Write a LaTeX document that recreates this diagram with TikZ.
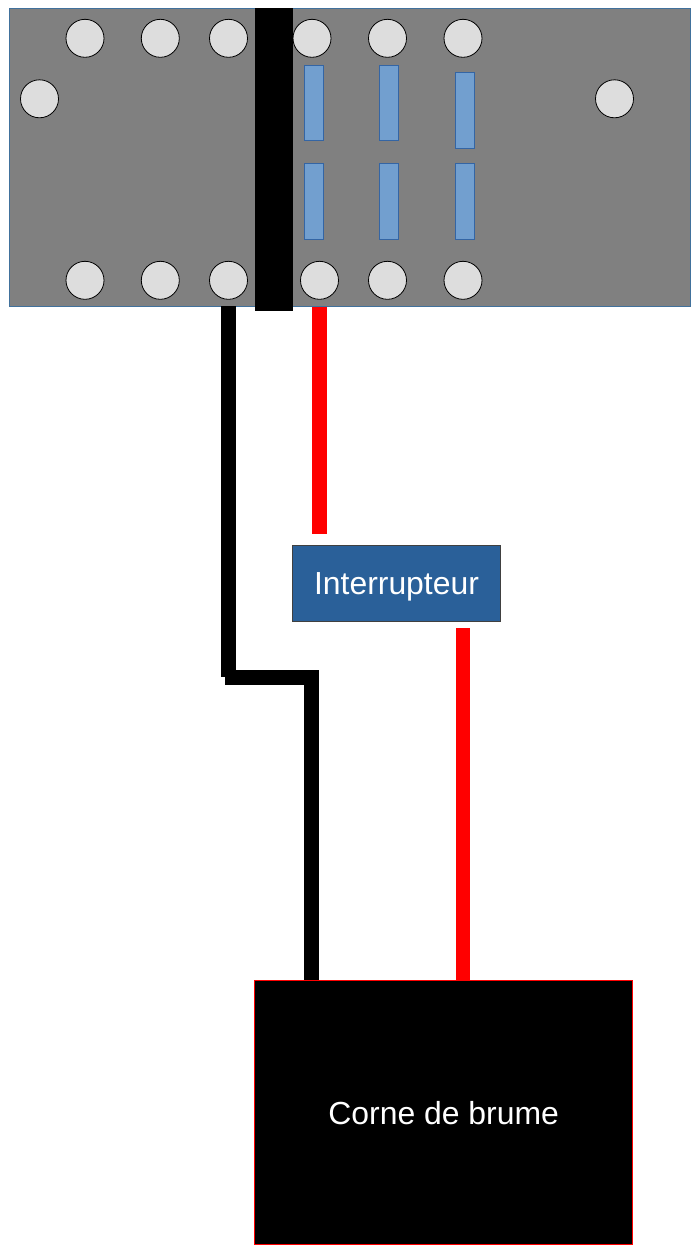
\documentclass[tikz,border=0pt]{standalone}
\usepackage{fontspec}
\setmainfont{Liberation Sans}
\definecolor{boardgray}{HTML}{808080}
\definecolor{edgeblue}{HTML}{41719C}
\definecolor{slotblue}{HTML}{729FCF}
\definecolor{slotedge}{HTML}{3465A4}
\definecolor{pingray}{HTML}{DDDDDD}
\definecolor{switchblue}{HTML}{2A6099}
\definecolor{pureRed}{HTML}{FF0000}
\tikzset{
  box/.style={rectangle,inner sep=0pt,outer sep=0pt,anchor=north west},
  board/.style={box,fill=boardgray,draw=edgeblue,line width=1pt,minimum width=681pt,minimum height=298pt},
  bar/.style={box,fill=black,minimum width=38pt,minimum height=303pt},
  pin/.style={circle,inner sep=0pt,outer sep=0pt,minimum size=38pt,fill=pingray,draw=black,line width=0.8pt},
  slot/.style={box,fill=slotblue,draw=slotedge,line width=0.8pt,minimum width=19pt,minimum height=75.5pt},
  switchbox/.style={box,fill=switchblue,draw=black!75,line width=1pt,minimum width=208pt,minimum height=76pt,text=white,text height=29pt,text depth=7pt,font=\fontsize{31.9}{38}\selectfont},
  hornbox/.style={box,fill=black,draw=pureRed,line width=1pt,minimum width=378pt,minimum height=264pt,text=white,text height=24.5pt,text depth=0pt,font=\fontsize{31.9}{38}\selectfont},
  blackwire/.style={draw=black,line width=15pt},
  redwire/.style={draw=pureRed,line width=15pt},
  redwirethin/.style={draw=pureRed,line width=14.5pt}
}
\begin{document}
\begin{tikzpicture}[x=1pt,y=-1pt]
\useasboundingbox (0,0) rectangle (693,1245);
\node[board] (plate) at (9,8) {};
\node[switchbox] (switch) at (292.5,545) {Interrupteur};
\node[hornbox] (horn) at (254.7,980) {Corne de brume};
\coordinate (k1) at (228.5,677);
\coordinate (k2) at (225,677.5);
\coordinate (k3) at (319,677.5);
\coordinate (k4) at (311.5,670);
\coordinate (r1top) at (319.5,306.5);
\coordinate (r1end) at (319.5,534);
\coordinate (r2start) at (463,628);
\draw[blackwire] (plate.south -| k1) -- (k1);
\draw[blackwire] (k2) -- (k3);
\draw[blackwire] (k4) -- (horn.north -| k4);
\draw[redwire] (r1top) -- (r1end);
\draw[redwirethin] (r2start) -- (horn.north -| r2start);
\node[bar] (clamp) at (255,8) {};
\foreach \n/\x/\y in {a/85/38.3,b/160.3/38.3,c/228.5/38.3,d/312/38.3,e/387.5/38.3,f/463/38.3,
  g/85/280.3,h/160.3/280.3,i/228.5/280.3,j/319.5/280.3,k/387.5/280.3,l/463/280.3,
  m/39.5/98.8,n/614.5/98.8}
  \node[pin] (pin\n) at (\x,\y) {};
\foreach \n/\x/\y in {s1/304/65,s2/304/163.5,s3/379.5/65,s4/379.5/163.5,s5/455/72.5,s6/455/163.5}
  \node[slot] (\n) at (\x,\y) {};
\end{tikzpicture}
\end{document}
